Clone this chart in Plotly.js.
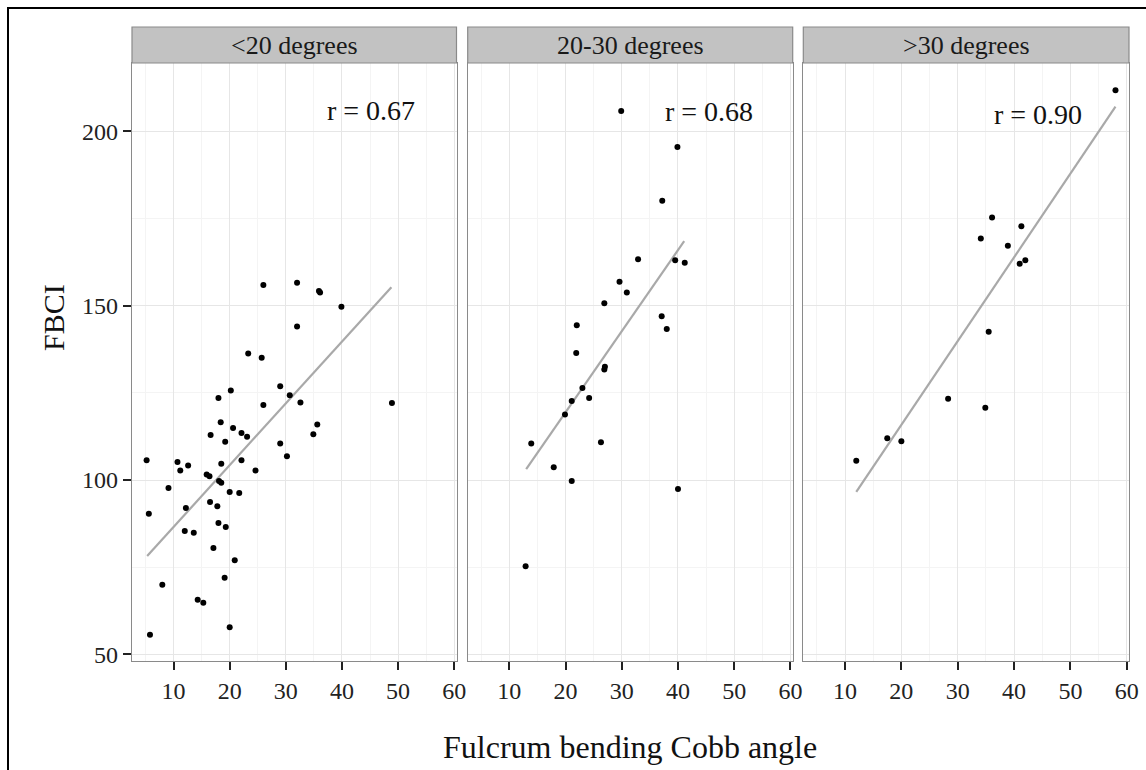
<!DOCTYPE html>
<html>
<head>
<meta charset="utf-8">
<script src="https://cdn.plot.ly/plotly-3.0.1.min.js"></script>
<style>
  html, body { margin: 0; padding: 0; background: #ffffff; }
  #wrap { position: relative; width: 1146px; height: 770px; overflow: hidden; }
  #chart { position: absolute; left: 0; top: 0; width: 1146px; height: 770px; }
  #frame { position: absolute; left: 7px; top: 7px; width: 1200px; height: 800px;
           border-top: 2.5px solid #000; border-left: 2.5px solid #000; pointer-events: none; }
</style>
</head>
<body>
<div id="wrap"><div id="chart"></div><div id="frame"></div></div>
<script>
// ---- data ----
const panelLabels = ["<20 degrees", "20-30 degrees", ">30 degrees"];
const rLabels = ["r = 0.67", "r = 0.68", "r = 0.90"];
const rLabelX = [45.1, 45.5, 44.2];
const rLabelY = [206.1, 205.6, 204.7];

const p1x = [26.0,32.0,35.9,36.1,39.9,32.0,23.3,25.7,29.0,20.2,30.7,18.0,32.6,48.9,26.0,18.4,35.6,20.6,34.9,16.6,22.1,23.1,19.2,29.0,30.2,5.2,10.7,12.6,18.5,22.1,11.2,24.6,15.9,16.4,18.1,18.5,9.1,20.0,21.7,16.5,12.2,17.8,5.6,18.0,19.3,12.0,13.6,17.1,20.9,19.1,8.0,14.3,15.3,20.0,5.8];
const p1y = [155.9,156.6,154.2,153.8,149.7,144.0,136.3,135.1,126.9,125.7,124.3,123.5,122.2,122.1,121.5,116.6,115.9,114.9,113.1,112.9,113.5,112.4,111.0,110.5,106.8,105.7,105.2,104.2,104.7,105.7,102.7,102.7,101.6,101.1,99.7,99.2,97.7,96.6,96.3,93.7,92.0,92.5,90.3,87.7,86.5,85.4,84.9,80.5,77.0,72.0,70.0,65.7,64.8,57.8,55.6];

const p2x = [29.9,39.9,37.2,32.9,39.5,41.2,29.6,30.9,26.9,37.1,38.0,22.0,21.9,27.0,26.9,23.0,21.1,24.2,19.9,13.9,26.3,17.9,21.1,40.0,12.9];
const p2y = [205.8,195.5,180.1,163.3,163.0,162.3,156.9,153.8,150.7,147.0,143.3,144.4,136.4,132.5,131.7,126.4,122.7,123.5,118.8,110.5,110.8,103.7,99.7,97.4,75.3];

const p3x = [58.0,36.1,41.3,34.1,38.9,41.0,42.0,35.5,28.3,34.9,17.5,20.0,12.0];
const p3y = [211.8,175.3,172.8,169.3,167.2,162.0,163.0,142.5,123.3,120.7,112.0,111.1,105.5];

const fitX1 = [5.3, 48.8],  fitY1 = [78.2, 155.3];
const fitX2 = [13.0, 41.1], fitY2 = [103.1, 168.5];
const fitX3 = [12.0, 58.0], fitY3 = [96.6, 207.1];

const xTicks = [10, 20, 30, 40, 50, 60];
const yTicks = [50, 100, 150, 200];

// ---- build ----
const pts = [[p1x, p1y], [p2x, p2y], [p3x, p3y]];
const fits = [[fitX1, fitY1], [fitX2, fitY2], [fitX3, fitY3]];
const axSuffix = ["", "2", "3"];
const SERIF = "Liberation Serif, Times New Roman, serif";

const traces = [];
for (let i = 0; i < 3; i++) {
  traces.push({
    type: "scatter", mode: "lines",
    x: fits[i][0], y: fits[i][1],
    xaxis: "x" + axSuffix[i], yaxis: "y" + axSuffix[i],
    line: { color: "#a9a9a9", width: 2.2 },
    hoverinfo: "skip", showlegend: false
  });
  traces.push({
    type: "scatter", mode: "markers",
    x: pts[i][0], y: pts[i][1],
    xaxis: "x" + axSuffix[i], yaxis: "y" + axSuffix[i],
    marker: { color: "#000000", size: 6 },
    showlegend: false
  });
}

const L = 132, R = 1129, T = 63, B = 661, W = 1146, H = 770;
const pw = R - L, ph = B - T;
const panelPx = [[132, 456.5], [467.7, 792.7], [803.3, 1129]];
const domains = panelPx.map(p => [(p[0] - L) / pw, (p[1] - L) / pw]);

const esc = s => s.replace(/&/g, "&amp;").replace(/</g, "&lt;").replace(/>/g, "&gt;");

const layout = {
  width: W, height: H,
  margin: { l: L, r: W - R, t: T, b: H - B, pad: 0 },
  paper_bgcolor: "#ffffff", plot_bgcolor: "#ffffff",
  font: { family: SERIF, color: "#1a1a1a" },
  showlegend: false,
  shapes: [], annotations: []
};

for (let i = 0; i < 3; i++) {
  const s = axSuffix[i];
  layout["xaxis" + s] = {
    domain: domains[i], range: [2.6, 60.4],
    tickmode: "array", tickvals: xTicks, ticktext: xTicks.map(String),
    ticks: "outside", ticklen: 8, tickwidth: 2, tickcolor: "#222",
    tickfont: { family: SERIF, size: 24, color: "#222" },
    showgrid: true, gridcolor: "#e6e6e6", gridwidth: 1,
    minor: { tickvals: [5, 15, 25, 35, 45, 55], showgrid: true, gridcolor: "#f4f4f4", gridwidth: 1, ticks: "" },
    zeroline: false, showline: true, linecolor: "#8a8a8a", linewidth: 1.2, mirror: true,
    anchor: "y" + s, fixedrange: true
  };
  layout["yaxis" + s] = {
    domain: [0, 1], range: [48.1, 219.6],
    tickmode: "array", tickvals: yTicks, ticktext: yTicks.map(String),
    ticks: i === 0 ? "outside" : "", ticklen: 8, tickwidth: 2, tickcolor: "#222",
    showticklabels: i === 0,
    tickfont: { family: SERIF, size: 24, color: "#222" },
    showgrid: true, gridcolor: "#e6e6e6", gridwidth: 1,
    minor: { tickvals: [75, 125, 175], showgrid: true, gridcolor: "#f4f4f4", gridwidth: 1, ticks: "" },
    zeroline: false, showline: true, linecolor: "#8a8a8a", linewidth: 1.2, mirror: true,
    anchor: "x" + s, fixedrange: true
  };
  // facet strip
  const stripTop = 1 + (T - 27) / ph;
  layout.shapes.push({
    type: "rect", xref: "x" + s + " domain", yref: "paper",
    x0: 0, x1: 1, y0: 1, y1: stripTop,
    fillcolor: "#c2c2c2", line: { color: "#8a8a8a", width: 1.2 }, layer: "above"
  });
  layout.annotations.push({
    xref: "x" + s + " domain", yref: "paper", x: 0.5, y: (1 + stripTop) / 2,
    xanchor: "center", yanchor: "middle", showarrow: false,
    text: esc(panelLabels[i]), font: { family: SERIF, size: 26, color: "#1a1a1a" }
  });
  // correlation label
  layout.annotations.push({
    xref: "x" + s, yref: "y" + s, x: rLabelX[i], y: rLabelY[i],
    xanchor: "center", yanchor: "middle", showarrow: false,
    text: rLabels[i], font: { family: SERIF, size: 28, color: "#111" }
  });
}

// axis titles
layout.annotations.push({
  xref: "paper", yref: "paper", x: (630 - L) / pw, y: (B - 747) / ph,
  xanchor: "center", yanchor: "middle", showarrow: false,
  text: "Fulcrum bending Cobb angle", font: { family: SERIF, size: 32, color: "#111" }
});
layout.annotations.push({
  xref: "paper", yref: "paper", x: (53 - L) / pw, y: (B - 318) / ph,
  xanchor: "center", yanchor: "middle", showarrow: false, textangle: -90,
  text: "FBCI", font: { family: SERIF, size: 30, color: "#111" }
});

Plotly.newPlot("chart", traces, layout, { displayModeBar: false, staticPlot: true });
</script>
</body>
</html>
